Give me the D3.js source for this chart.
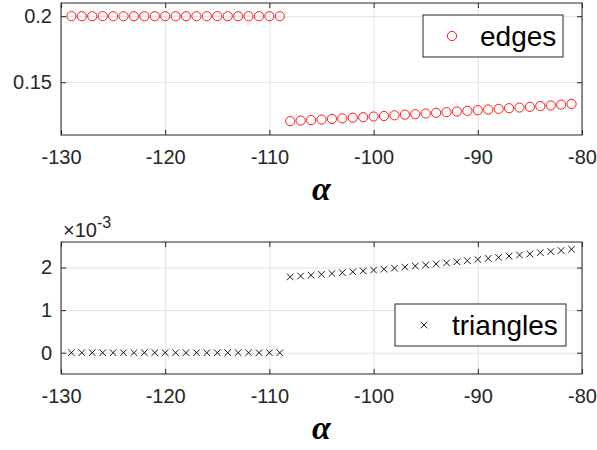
<!DOCTYPE html>
<html>
<head>
<meta charset="utf-8">
<script src="https://cdn.jsdelivr.net/npm/d3@7"></script>
<style>
body { margin: 0; background: #fff; }
svg { display: block; font-family: 'Liberation Sans', Arial, Helvetica, sans-serif; }
.grid line { stroke: #e1e1e1; stroke-width: 1; }
.grid .domain { display: none; }
.axis line { stroke: #262626; }
.axis .domain { display: none; }
.axis text { fill: #262626; font-size: 20px; }
.frame { fill: none; stroke: #262626; stroke-width: 1; }
.legend rect { fill: #fff; stroke: #262626; stroke-width: 1; }
.legend text { fill: #000; font-size: 28px; }
.xlabel { font-family: 'Liberation Serif', 'Times New Roman', serif; font-style: italic; font-weight: bold; font-size: 34px; fill: #000; }
</style>
</head>
<body>
<script>
// x values (alpha), left and right group
var alphaLeft = [-129, -128, -127, -126, -125, -124, -123, -122, -121, -120,
	-119, -118, -117, -116, -115, -114, -113, -112, -111, -110, -109];
var alphaRight = [-108, -107, -106, -105, -104, -103, -102, -101, -100,
	-99, -98, -97, -96, -95, -94, -93, -92, -91, -90,
	-89, -88, -87, -86, -85, -84, -83, -82, -81];

// edges fraction
var edgesLeft = [0.2, 0.2, 0.2, 0.2, 0.2, 0.2, 0.2, 0.2, 0.2, 0.2,
	0.2, 0.2, 0.2, 0.2, 0.2, 0.2, 0.2, 0.2, 0.2, 0.2, 0.2];
var edgesRight = [0.1205, 0.1209, 0.1213, 0.1217, 0.1222, 0.1226, 0.1231, 0.1235, 0.1240,
	0.1244, 0.1249, 0.1254, 0.1258, 0.1263, 0.1268, 0.1273, 0.1278, 0.1283, 0.1288,
	0.1293, 0.1298, 0.1303, 0.1308, 0.1313, 0.1319, 0.1324, 0.1330, 0.1335];

// triangles fraction, in units of 1e-3
var trianglesLeft = [0, 0, 0, 0, 0, 0, 0, 0, 0, 0,
	0, 0, 0, 0, 0, 0, 0, 0, 0, 0, 0];
var trianglesRight = [1.78, 1.80, 1.82, 1.84, 1.86, 1.88, 1.90, 1.92, 1.94,
	1.96, 1.985, 2.01, 2.035, 2.06, 2.085, 2.11, 2.135, 2.16, 2.19,
	2.215, 2.24, 2.27, 2.295, 2.32, 2.35, 2.375, 2.40, 2.43];

var xTicks = [-130, -120, -110, -100, -90, -80];
var edgesTicks = [0.15, 0.2];
var trianglesTicks = [0, 1, 2];

var W = 597, H = 450;
var left = 61, plotW = 521, plotH = 132;

var svg = d3.select('body').append('svg')
	.attr('width', W)
	.attr('height', H);

function zip(xs, ys) {
	return xs.map(function(x, i) { return { x: x, y: ys[i] }; });
}

// one panel: scales, grid, points, box with inward ticks, x label
function panel(top, yDomain, yTicks, data, marker, legend) {
	var g = svg.append('g').attr('transform', `translate(${left}, ${top})`);

	var x = d3.scaleLinear().domain([-130, -80]).range([0, plotW]);
	var y = d3.scaleLinear().domain(yDomain).range([plotH, 0]);

	// grid
	g.append('g').attr('class', 'grid')
		.attr('transform', `translate(0, ${plotH})`)
		.call(d3.axisBottom(x).tickValues(xTicks).tickSize(-plotH).tickFormat(''));
	g.append('g').attr('class', 'grid')
		.call(d3.axisLeft(y).tickValues(yTicks).tickSize(-plotW).tickFormat(''));

	// ticks on all four sides, pointing in
	g.append('g').attr('class', 'axis')
		.attr('transform', `translate(0, ${plotH})`)
		.call(d3.axisBottom(x).tickValues(xTicks).tickSize(-5).tickSizeOuter(0)
			.tickPadding(15).tickFormat(function(d) { return String(d); }));
	g.append('g').attr('class', 'axis')
		.call(d3.axisTop(x).tickValues(xTicks).tickSize(-5).tickSizeOuter(0).tickFormat(''));
	g.append('g').attr('class', 'axis')
		.call(d3.axisLeft(y).tickValues(yTicks).tickSize(-5).tickSizeOuter(0)
			.tickPadding(9).tickFormat(function(d) { return String(d); }));
	g.append('g').attr('class', 'axis')
		.attr('transform', `translate(${plotW}, 0)`)
		.call(d3.axisRight(y).tickValues(yTicks).tickSize(-5).tickSizeOuter(0).tickFormat(''));

	g.append('rect').attr('class', 'frame')
		.attr('width', plotW)
		.attr('height', plotH);

	// data markers
	var pts = g.append('g').selectAll('g')
		.data(data)
		.enter().append('g')
		.attr('transform', function(d) { return `translate(${x(d.x)}, ${y(d.y)})`; });
	marker(pts);

	// legend box
	var lg = g.append('g').attr('class', 'legend')
		.attr('transform', `translate(${plotW - legend.right - legend.w}, ${legend.top})`);
	lg.append('rect').attr('width', legend.w).attr('height', legend.h);
	marker(lg.append('g').attr('transform', `translate(${legend.mx}, ${legend.h / 2})`));
	lg.append('text')
		.attr('x', legend.tx)
		.attr('y', legend.h / 2)
		.attr('dy', '0.36em')
		.text(legend.label);

	// x label
	g.append('text').attr('class', 'xlabel')
		.attr('x', plotW / 2)
		.attr('y', plotH + 65)
		.attr('text-anchor', 'middle')
		.text('α');

	return g;
}

function circleMarker(sel) {
	sel.append('circle')
		.attr('r', 4.6)
		.attr('fill', 'none')
		.attr('stroke', '#ff0000')
		.attr('stroke-width', 0.9);
}

function crossMarker(sel) {
	sel.append('path')
		.attr('d', 'M-3.3,-3.3L3.3,3.3M-3.3,3.3L3.3,-3.3')
		.attr('fill', 'none')
		.attr('stroke', '#000')
		.attr('stroke-width', 0.9);
}

panel(3, [0.11, 0.21], edgesTicks,
	zip(alphaLeft, edgesLeft).concat(zip(alphaRight, edgesRight)),
	circleMarker,
	{ right: 19, top: 12, w: 140, h: 42, mx: 29, tx: 57, label: 'edges' });

var bottom = panel(242, [-0.5, 2.6], trianglesTicks,
	zip(alphaLeft, trianglesLeft).concat(zip(alphaRight, trianglesRight)),
	crossMarker,
	{ right: 16, top: 62, w: 171, h: 42, mx: 29, tx: 57, label: 'triangles' });

// exponent label above the lower panel
var expo = bottom.append('text')
	.attr('x', 2)
	.attr('y', -5)
	.attr('fill', '#262626')
	.style('font-size', '20px');
expo.append('tspan').text('×10');
expo.append('tspan').attr('dy', -9).style('font-size', '16px').text('-3');
</script>
</body>
</html>
